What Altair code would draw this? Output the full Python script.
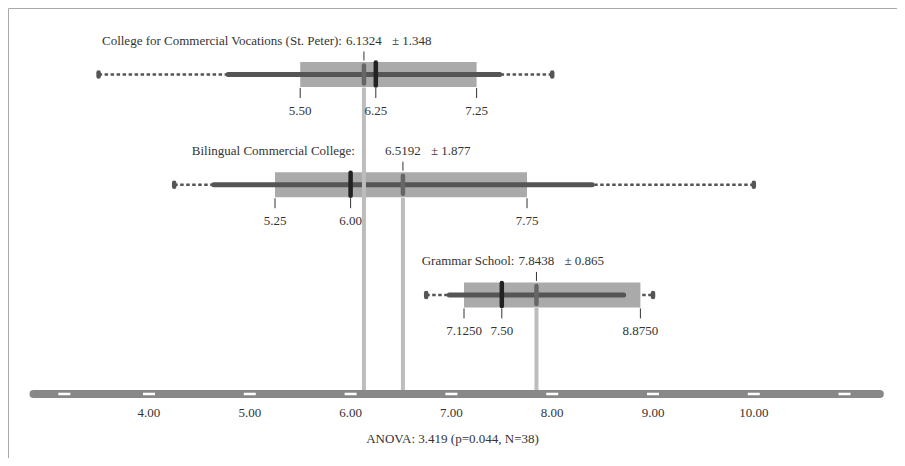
import altair as alt
import pandas as pd

# ---- data ----
groups = ["College for Commercial Vocations (St. Peter)", "Bilingual Commercial College", "Grammar School"]
means = [6.1324, 6.5192, 7.8438]
sds = [1.348, 1.877, 0.865]
q1s = [5.50, 5.25, 7.125]
medians = [6.25, 6.00, 7.50]
q3s = [7.25, 7.75, 8.875]
mins = [3.5, 4.25, 6.75]
maxs = [8.0, 10.0, 9.0]
q1_labels = ["5.50", "5.25", "7.1250"]
median_labels = ["6.25", "6.00", "7.50"]
q3_labels = ["7.25", "7.75", "8.8750"]
tick_values = [4, 5, 6, 7, 8, 9, 10]
tick_labels = ["4.00", "5.00", "6.00", "7.00", "8.00", "9.00", "10.00"]
axis_marks = [3.16, 4, 5, 6, 7, 8, 9, 10, 10.9]
axis_range = [2.854, 11.25]
caption = "ANOVA: 3.419 (p=0.044, N=38)"

# ---- layout ----
W, H = 889, 450
X_DOMAIN = [2.6012, 11.4206]
Y_DOMAIN = [-0.6034, 3.480]
AXIS_ROW = 2.899
PX = W / (X_DOMAIN[1] - X_DOMAIN[0])  # pixels per unit
FONT = "Liberation Serif"
FS = 13
TXT = "#333333"

rows = list(range(len(groups)))
df = pd.DataFrame({
    "row": rows, "group": [g + ":" for g in groups], "mean": means, "sd": sds,
    "q1": q1s, "med": medians, "q3": q3s, "mn": mins, "mx": maxs,
})
df["lo"] = df["mean"] - df["sd"]
df["hi"] = df["mean"] + df["sd"]
df["mean_lbl"] = [f"{m:.4f}" for m in means]
df["sd_lbl"] = [f"\u00b1 {s:.3f}" for s in sds]
df["axis_row"] = AXIS_ROW

# group label ends left of the mean label, and left of earlier mean lines it would cross
ends = []
for i, m in enumerate(means):
    end = m - 22 / PX
    width = (len(groups[i]) + 1) * 5.6 / PX
    for pm in means[:i]:
        if end - width < pm < end + 4 / PX:
            end = min(end, pm - 9 / PX)
    ends.append(end)
df["label_end"] = ends
df["sd_x"] = df["mean"] + 28 / PX

qdf = pd.DataFrame({
    "row": rows * 3,
    "value": q1s + medians + q3s,
    "label": q1_labels + median_labels + q3_labels,
})
ends_df = pd.DataFrame({"row": rows * 2, "value": mins + maxs})
axis_df = pd.DataFrame({"a": [axis_range[0]], "b": [axis_range[1]], "row": [AXIS_ROW]})
marks_df = pd.DataFrame({"value": axis_marks, "row": AXIS_ROW})
ticks_df = pd.DataFrame({"value": tick_values, "label": tick_labels, "row": AXIS_ROW})

xs = alt.Scale(domain=X_DOMAIN, nice=False, zero=False)
ys = alt.Scale(domain=Y_DOMAIN, nice=False, zero=False, reverse=True)


def X(f):
    return alt.X(f, type="quantitative", scale=xs, axis=None)


def Y(f):
    return alt.Y(f, type="quantitative", scale=ys, axis=None)


base = alt.Chart(df)

dotted = base.mark_rule(color="#555555", strokeWidth=2.5, strokeDash=[3.5, 2.5]).encode(
    x=X("mn"), x2="mx", y=Y("row"))
dots = alt.Chart(ends_df).mark_rule(color="#555555", strokeWidth=4.5, strokeCap="round",
                                    yOffset=-2, y2Offset=2).encode(
    x=X("value"), y=Y("row"), y2="row")
box = base.mark_rule(color="#aaaaaa", strokeWidth=25, strokeCap="butt").encode(
    x=X("q1"), x2="q3", y=Y("row"))
sdline = base.mark_rule(color="#555555", strokeWidth=5, strokeCap="round").encode(
    x=X("lo"), x2="hi", y=Y("row"))
meanline = base.mark_rule(color="#bdbdbd", strokeWidth=4, yOffset=13).encode(
    x=X("mean"), y=Y("row"), y2="axis_row")
axisbar = alt.Chart(axis_df).mark_rule(color="#888888", strokeWidth=8, strokeCap="round").encode(
    x=X("a"), x2="b", y=Y("row"))
axismarks = alt.Chart(marks_df).mark_tick(color="white", orient="horizontal", size=12,
                                          thickness=2.5, opacity=1).encode(
    x=X("value"), y=Y("row"))
meanmark = base.mark_rule(color="#666666", strokeWidth=4.5, strokeCap="round",
                          yOffset=-9, y2Offset=9).encode(
    x=X("mean"), y=Y("row"), y2="row")
medmark = base.mark_rule(color="#222222", strokeWidth=4.5, strokeCap="round",
                         yOffset=-12, y2Offset=11).encode(
    x=X("med"), y=Y("row"), y2="row")
meantick = base.mark_rule(color="#333333", strokeWidth=1, yOffset=-23, y2Offset=-14).encode(
    x=X("mean"), y=Y("row"), y2="row")
qtick = alt.Chart(qdf).mark_rule(color="#333333", strokeWidth=1, yOffset=13.5, y2Offset=23.5).encode(
    x=X("value"), y=Y("row"), y2="row")

tstyle = dict(font=FONT, fontSize=FS, color=TXT, baseline="alphabetic")
grouplbl = base.mark_text(align="right", dy=-29.5, **tstyle).encode(
    x=X("label_end"), y=Y("row"), text="group")
meanlbl = base.mark_text(align="center", dy=-29.5, **tstyle).encode(
    x=X("mean"), y=Y("row"), text="mean_lbl")
sdlbl = base.mark_text(align="left", dy=-29.5, **tstyle).encode(
    x=X("sd_x"), y=Y("row"), text="sd_lbl")
qlbl = alt.Chart(qdf).mark_text(align="center", dy=40.5, **tstyle).encode(
    x=X("value"), y=Y("row"), text="label")
ticklbl = alt.Chart(ticks_df).mark_text(align="center", dy=23, **tstyle).encode(
    x=X("value"), y=Y("row"), text="label")
cap = alt.Chart(pd.DataFrame({"t": [caption], "row": [AXIS_ROW]})).mark_text(
    align="center", dy=49, **tstyle).encode(
    x=alt.value(W / 2), y=Y("row"), text="t")

chart = alt.layer(
    dotted, dots, box, sdline, meanline, axisbar, axismarks, meanmark, medmark,
    meantick, qtick, grouplbl, meanlbl, sdlbl, qlbl, ticklbl, cap,
).properties(
    width=W, height=H, padding=0, autosize="none", background="white",
).configure_view(stroke="#aaaaaa", strokeWidth=1)

chart.save("out.html", embed_options={"renderer": "svg", "actions": False})
